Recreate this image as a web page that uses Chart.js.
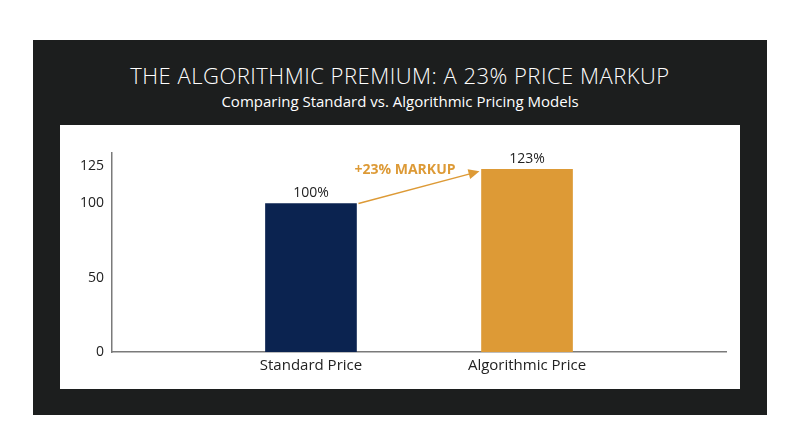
<!DOCTYPE html>
<html>
<head>
<meta charset="utf-8">
<script src="https://cdn.jsdelivr.net/npm/chart.js@4"></script>
<style>
  html, body { margin: 0; padding: 0; background: #ffffff; }
  body { width: 800px; height: 447px; position: relative; overflow: hidden; font-family: "Open Sans", sans-serif; }
  #panel { position: absolute; left: 33px; top: 40px; width: 734px; height: 375px; background: #1c1e1e; }
  #titulo { position: absolute; left: 0; width: 800px; top: 60px; text-align: center; color: #ffffff;
    font-size: 22px; font-weight: 300; letter-spacing: 0.5px; }
  #subtitulo { position: absolute; left: 0; width: 800px; top: 91px; text-align: center; color: #ffffff;
    font-size: 15px; font-weight: 400; }
  #caja { position: absolute; left: 60px; top: 125px; width: 680px; height: 264px; background: #ffffff; }
</style>
</head>
<body>
<div id="panel"></div>
<div id="titulo">THE ALGORITHMIC PREMIUM: A 23% PRICE MARKUP</div>
<div id="subtitulo">Comparing Standard vs. Algorithmic Pricing Models</div>
<div id="caja"><canvas id="grafica" width="680" height="264"></canvas></div>

<script>
// ------------- Datos de la grafica -------------
categorias = ['Standard Price', 'Algorithmic Price']
valores = [100, 123]
etiquetas = ['100%', '123%']
ticksY = [0, 50, 100, 125]
textoMarkup = '+23% MARKUP'

colores = [
  color1 = '#0b2350',
  color2 = '#dd9a36'
]

// Plugin para las etiquetas y la flecha
pluginAnotaciones = {
  id: 'anotaciones',
  afterDatasetsDraw(chart) {
    ctx = chart.ctx
    meta = chart.getDatasetMeta(0)
    y = chart.scales.y

    // Etiquetas sobre las barras
    ctx.save()
    ctx.fillStyle = '#222222'
    ctx.font = '400 14px "Open Sans"'
    ctx.textAlign = 'center'
    ctx.textBaseline = 'bottom'
    meta.data.forEach((barra, i) => {
      ctx.fillText(etiquetas[i], barra.x, barra.y - 3)
    })

    // Flecha de la barra 1 a la barra 2
    b1 = meta.data[0]
    b2 = meta.data[1]
    x1 = b1.x + b1.width / 2 + 2
    y1 = y.getPixelForValue(valores[0])
    x2 = b2.x - b2.width / 2 - 2
    y2 = y.getPixelForValue(valores[1]) + 2
    ctx.strokeStyle = color2
    ctx.fillStyle = color2
    ctx.lineWidth = 1.5
    ang = Math.atan2(y2 - y1, x2 - x1)
    ctx.beginPath()
    ctx.moveTo(x1, y1)
    ctx.lineTo(x2 - 8 * Math.cos(ang), y2 - 8 * Math.sin(ang))
    ctx.stroke()
    ctx.beginPath()
    ctx.moveTo(x2, y2)
    ctx.lineTo(x2 - 11 * Math.cos(ang) + 5 * Math.sin(ang), y2 - 11 * Math.sin(ang) - 5 * Math.cos(ang))
    ctx.lineTo(x2 - 11 * Math.cos(ang) - 5 * Math.sin(ang), y2 - 11 * Math.sin(ang) + 5 * Math.cos(ang))
    ctx.closePath()
    ctx.fill()

    // Texto del markup
    ctx.font = '700 14px "Open Sans"'
    ctx.textBaseline = 'middle'
    ctx.fillText(textoMarkup, (x1 + x2) / 2 - 14, y2 - 1)
    ctx.restore()
  }
}

config = {
  type: 'bar',
  data: {
    datasets: [{
      data: valores.map((v, i) => ({ x: i + 1, y: v })),
      backgroundColor: colores,
      borderWidth: 0,
      barThickness: 91
    }]
  },
  options: {
    responsive: false,
    animation: false,
    layout: { padding: { left: 0, right: 14, top: 28, bottom: 0 } },
    plugins: {
      legend: { display: false },
      tooltip: { enabled: false }
    },
    scales: {
      x: {
        type: 'linear',
        offset: false,
        min: 0.079,
        max: 2.921,
        grid: { display: false, drawTicks: false, offset: false },
        border: { display: true, color: '#7a7a7a', width: 1.5 },
        afterBuildTicks: (escala) => { escala.ticks = [{ value: 1 }, { value: 2 }] },
        afterFit: (escala) => { escala.height = 37 },
        ticks: {
          color: '#222222',
          font: { family: 'Open Sans', size: 15 },
          padding: 5,
          callback: (v) => categorias[v - 1]
        }
      },
      y: {
        min: 0,
        max: 134,
        grid: { display: false, drawTicks: false },
        border: { display: true, color: '#7a7a7a', width: 1.5 },
        afterBuildTicks: (escala) => { escala.ticks = ticksY.map(v => ({ value: v })) },
        afterFit: (escala) => { escala.width = 52 },
        ticks: {
          color: '#222222',
          font: { family: 'Open Sans', size: 14 },
          padding: 8
        }
      }
    }
  },
  plugins: [pluginAnotaciones]
}

grafica = new Chart(document.getElementById('grafica'), config)
</script>
</body>
</html>
